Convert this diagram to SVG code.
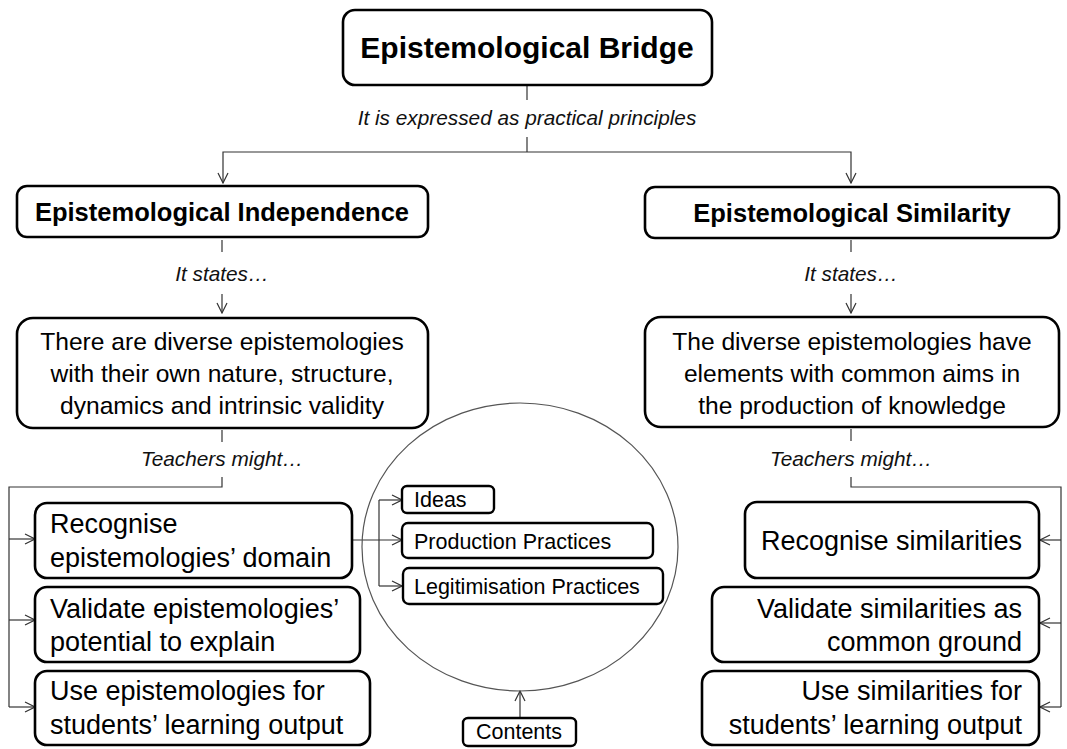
<svg xmlns="http://www.w3.org/2000/svg" width="1067" height="749" viewBox="0 0 1067 749">
<style>
.box{fill:#fff;stroke:#000;stroke-width:2.6}
.sbox{fill:#fff;stroke:#000;stroke-width:2.4}
.con{fill:none;stroke:#333;stroke-width:1.2}
.t{font-family:"Liberation Sans",Arial,sans-serif;fill:#000}
.title{font-size:30px;font-weight:bold;text-anchor:middle}
.head{font-size:25.5px;font-weight:bold;text-anchor:middle}
.mbody{font-size:24.6px;text-anchor:middle}
.body{font-size:27px}
.end{text-anchor:end}
.lab{font-size:20.8px;font-style:italic;text-anchor:middle;fill:#111}
.small{font-size:21.5px}
.mid{text-anchor:middle}
</style>
<defs>
<marker id="arr" viewBox="0 0 12 12" refX="11" refY="6" markerWidth="12" markerHeight="12" markerUnits="userSpaceOnUse" orient="auto">
<polyline points="1,1 11,6 1,11" fill="none" stroke="#333" stroke-width="1.2"/>
</marker>
</defs>
<rect width="1067" height="749" fill="#fff"/>

<g id="connectors">
<line class="con" x1="527" y1="85" x2="527" y2="100"/>
<line class="con" x1="527" y1="137" x2="527" y2="152"/>
<polyline class="con" points="527,152 851,152 851,183" marker-end="url(#arr)"/>
<polyline class="con" points="527,152 223,152 223,183" marker-end="url(#arr)"/>
<line class="con" x1="222" y1="240" x2="222" y2="252"/>
<line class="con" x1="222" y1="294" x2="222" y2="313" marker-end="url(#arr)"/>
<line class="con" x1="851" y1="240" x2="851" y2="252"/>
<line class="con" x1="851" y1="294" x2="851" y2="313" marker-end="url(#arr)"/>
<line class="con" x1="222" y1="430" x2="222" y2="442"/>
<polyline class="con" points="222,477 222,487 9,487 9,707"/>
<line class="con" x1="9" y1="539" x2="35" y2="539" marker-end="url(#arr)"/>
<line class="con" x1="9" y1="620" x2="35" y2="620" marker-end="url(#arr)"/>
<line class="con" x1="9" y1="707" x2="35" y2="707" marker-end="url(#arr)"/>
<line class="con" x1="851" y1="429" x2="851" y2="441"/>
<polyline class="con" points="851,477 851,487 1061,487 1061,707"/>
<line class="con" x1="1061" y1="540" x2="1040" y2="540" marker-end="url(#arr)"/>
<line class="con" x1="1061" y1="623" x2="1040" y2="623" marker-end="url(#arr)"/>
<line class="con" x1="1061" y1="707" x2="1040" y2="707" marker-end="url(#arr)"/>
<line class="con" x1="352" y1="540" x2="402" y2="540" marker-end="url(#arr)"/>
<line class="con" x1="379" y1="500" x2="379" y2="586"/>
<line class="con" x1="379" y1="500" x2="402" y2="500" marker-end="url(#arr)"/>
<line class="con" x1="379" y1="586" x2="402" y2="586" marker-end="url(#arr)"/>
<line class="con" x1="520" y1="718" x2="520" y2="691" marker-end="url(#arr)"/>
</g>

<g id="lab1"><text class="t lab" x="527" y="125">It is expressed as practical principles</text></g>
<g id="lab2"><text class="t lab" x="222" y="281">It states…</text></g>
<g id="lab3"><text class="t lab" x="851" y="281">It states…</text></g>
<g id="lab4"><text class="t lab" x="222" y="466">Teachers might…</text></g>
<g id="lab5"><text class="t lab" x="851" y="466">Teachers might…</text></g>

<g id="bridge">
<rect class="box" x="343" y="10" width="369" height="75" rx="12"/>
<text class="t title" x="527" y="58">Epistemological Bridge</text>
</g>

<g id="independence">
<rect class="box" x="17" y="186" width="411" height="51" rx="10"/>
<text class="t head" x="222" y="221">Epistemological Independence</text>
</g>

<g id="similarity">
<rect class="box" x="645" y="187" width="414" height="51" rx="10"/>
<text class="t head" x="852" y="222">Epistemological Similarity</text>
</g>

<g id="diverse">
<rect class="box" x="17" y="318" width="411" height="110" rx="16"/>
<text class="t mbody" x="222" y="350">There are diverse epistemologies</text>
<text class="t mbody" x="222" y="382">with their own nature, structure,</text>
<text class="t mbody" x="222" y="414">dynamics and intrinsic validity</text>
</g>

<g id="common">
<rect class="box" x="645" y="317" width="414" height="110" rx="16"/>
<text class="t mbody" x="852" y="350">The diverse epistemologies have</text>
<text class="t mbody" x="852" y="382">elements with common aims in</text>
<text class="t mbody" x="852" y="414">the production of knowledge</text>
</g>

<g id="recognise-domain">
<rect class="box" x="35" y="503" width="317" height="75" rx="12"/>
<text class="t body" x="50" y="533">Recognise</text>
<text class="t body" x="50" y="567">epistemologies’ domain</text>
</g>

<g id="validate-explain">
<rect class="box" x="35" y="587" width="325" height="75" rx="12"/>
<text class="t body" x="50" y="618">Validate epistemologies’</text>
<text class="t body" x="50" y="651">potential to explain</text>
</g>

<g id="use-epist">
<rect class="box" x="35" y="671" width="335" height="74" rx="12"/>
<text class="t body" x="50" y="700">Use epistemologies for</text>
<text class="t body" x="50" y="734">students’ learning output</text>
</g>

<g id="contents-circle">
<ellipse cx="520" cy="547" rx="158" ry="144" fill="none" stroke="#555" stroke-width="1.2"/>
</g>

<g id="ideas">
<rect class="sbox" x="402" y="486" width="92" height="27" rx="5"/>
<text class="t small" x="414" y="507">Ideas</text>
</g>
<g id="production">
<rect class="sbox" x="402" y="523" width="251" height="35" rx="6"/>
<text class="t small" x="414" y="549">Production Practices</text>
</g>
<g id="legitimisation">
<rect class="sbox" x="403" y="568" width="260" height="36" rx="6"/>
<text class="t small" x="414" y="594">Legitimisation Practices</text>
</g>
<g id="contents">
<rect class="sbox" x="463" y="718" width="113" height="28" rx="5"/>
<text class="t small mid" x="519" y="739">Contents</text>
</g>

<g id="recognise-sim">
<rect class="box" x="745" y="502" width="294" height="76" rx="12"/>
<text class="t body end" x="1022" y="550">Recognise similarities</text>
</g>
<g id="validate-sim">
<rect class="box" x="712" y="587" width="327" height="75" rx="12"/>
<text class="t body end" x="1022" y="618">Validate similarities as</text>
<text class="t body end" x="1022" y="651">common ground</text>
</g>
<g id="use-sim">
<rect class="box" x="702" y="671" width="337" height="74" rx="12"/>
<text class="t body end" x="1022" y="700">Use similarities for</text>
<text class="t body end" x="1022" y="734">students’ learning output</text>
</g>
</svg>
